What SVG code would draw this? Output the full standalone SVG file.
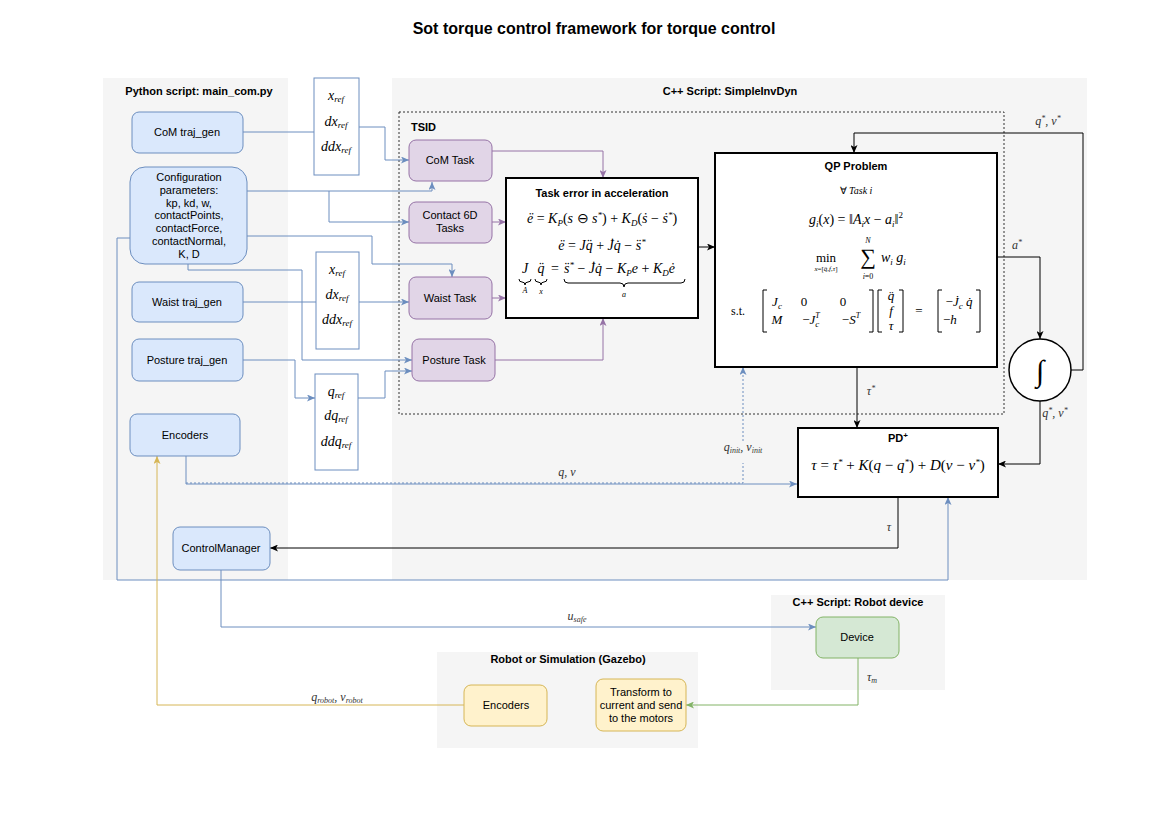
<svg xmlns="http://www.w3.org/2000/svg" width="1169" height="826" viewBox="0 0 1169 826">
<style>
.panel{fill:#f5f5f5;stroke:none}
.ptitle{font-family:"Liberation Sans",Arial,sans-serif;font-size:11px;font-weight:bold;fill:#000;text-anchor:middle}
.lbl{font-family:"Liberation Sans",Arial,sans-serif;font-size:11px;fill:#000;text-anchor:middle}
.blue{fill:#dae8fc;stroke:#6c8ebf;stroke-width:1}
.purple{fill:#e1d5e7;stroke:#9673a6;stroke-width:1}
.green{fill:#d5e8d4;stroke:#82b366;stroke-width:1}
.yellow{fill:#fff2cc;stroke:#d6b656;stroke-width:1}
.refbox{fill:#fff;stroke:#6c8ebf;stroke-width:1}
.bbox{fill:#fff;stroke:#000;stroke-width:2}
.m{font-family:"Liberation Serif","Times New Roman",serif;font-style:italic;fill:#000}
.r{font-family:"Liberation Serif","Times New Roman",serif;fill:#000}
.cb{fill:none;stroke:#6c8ebf;stroke-width:1}
.cp{fill:none;stroke:#9673a6;stroke-width:1}
.ck{fill:none;stroke:#000;stroke-width:1}
.cg{fill:none;stroke:#82b366;stroke-width:1}
.cy{fill:none;stroke:#d6b656;stroke-width:1}
.br{fill:none;stroke:#000;stroke-width:1}
.el{font-family:"Liberation Serif","Times New Roman",serif;font-style:italic;font-size:12px;fill:#333;text-anchor:middle}
</style>
<defs>
<marker id="ab" markerWidth="8" markerHeight="7" refX="8" refY="3.5" orient="auto" markerUnits="userSpaceOnUse"><path d="M0,0 L8,3.5 L0,7 L2,3.5 z" fill="#6c8ebf"/></marker>
<marker id="ap" markerWidth="8" markerHeight="7" refX="8" refY="3.5" orient="auto" markerUnits="userSpaceOnUse"><path d="M0,0 L8,3.5 L0,7 L2,3.5 z" fill="#9673a6"/></marker>
<marker id="ak" markerWidth="8" markerHeight="7" refX="8" refY="3.5" orient="auto" markerUnits="userSpaceOnUse"><path d="M0,0 L8,3.5 L0,7 L2,3.5 z" fill="#000"/></marker>
<marker id="ag" markerWidth="8" markerHeight="7" refX="8" refY="3.5" orient="auto" markerUnits="userSpaceOnUse"><path d="M0,0 L8,3.5 L0,7 L2,3.5 z" fill="#82b366"/></marker>
<marker id="ay" markerWidth="8" markerHeight="7" refX="8" refY="3.5" orient="auto" markerUnits="userSpaceOnUse"><path d="M0,0 L8,3.5 L0,7 L2,3.5 z" fill="#d6b656"/></marker>
</defs>
<rect width="1169" height="826" fill="#fff"/>
<text x="594" y="34" font-family="Liberation Sans,Arial,sans-serif" font-size="16" font-weight="bold" text-anchor="middle">Sot torque control framework for torque control</text>

<g id="panels">
<rect class="panel" x="103" y="78" width="185" height="502"/>
<text class="ptitle" x="199" y="95">Python script: main_com.py</text>
<rect class="panel" x="392" y="78" width="695" height="502"/>
<text class="ptitle" x="730" y="95">C++ Script: SimpleInvDyn</text>
<rect x="399" y="112" width="605" height="302" fill="none" stroke="#333" stroke-width="1" stroke-dasharray="2,2"/>
<text x="411" y="131" font-family="Liberation Sans,Arial,sans-serif" font-size="11" font-weight="bold">TSID</text>
<rect class="panel" x="771" y="595" width="174" height="95"/>
<text class="ptitle" x="858" y="606">C++ Script: Robot device</text>
<rect class="panel" x="437" y="652" width="261" height="96"/>
<text class="ptitle" x="568" y="663">Robot or Simulation (Gazebo)</text>
</g>

<g id="connectors">
<path class="cb" d="M243,132 H314"/>
<path class="cb" d="M359,127 H385 V160 H409" marker-end="url(#ab)"/>
<path class="cb" d="M247,191 H432 V182" marker-end="url(#ab)"/>
<path class="cb" d="M329,191 V222 H409" marker-end="url(#ab)"/>
<path class="cb" d="M247,236 H372 V264 H452 V277" marker-end="url(#ab)"/>
<path class="cb" d="M188,264 V270 H302 V360 H412" marker-end="url(#ab)"/>
<path class="cb" d="M243,302 H316"/>
<path class="cb" d="M359,302 H409" marker-end="url(#ab)"/>
<path class="cb" d="M243,360 H295 V398 H315" marker-end="url(#ab)"/>
<path class="cb" d="M358,398 H385 V371 H412" marker-end="url(#ab)"/>
<path class="cp" d="M492,151 H603 V178" marker-end="url(#ap)"/>
<path class="cp" d="M492,222 H506" marker-end="url(#ap)"/>
<path class="cp" d="M492,298 H506" marker-end="url(#ap)"/>
<path class="cp" d="M495,360 H603 V318" marker-end="url(#ap)"/>
<path class="ck" d="M698,247 H715" marker-end="url(#ak)"/>
<path class="ck" d="M997,257 H1040 V339" marker-end="url(#ak)"/>
<path class="ck" d="M1071,370 H1083 V133 H854 V153" marker-end="url(#ak)"/>
<path class="ck" d="M1040,401 V464 H998" marker-end="url(#ak)"/>
<path class="ck" d="M857,367 V428" marker-end="url(#ak)"/>
<path class="ck" d="M898,497 V548 H270" marker-end="url(#ak)"/>
<path class="cb" d="M186,456 V484 H797" marker-end="url(#ab)"/>
<path class="cb" d="M186,483 H743 V463" stroke-dasharray="2,2"/>
<path class="cb" d="M743,441 V367" stroke-dasharray="2,2" marker-end="url(#ab)"/>
<path class="cb" d="M130,238 H117 V580 H948 V497" marker-end="url(#ab)"/>
<path class="cb" d="M221,570 V627 H816" marker-end="url(#ab)"/>
<path class="cg" d="M858,658 V705 H686" marker-end="url(#ag)"/>
<path class="cy" d="M464,705 H157 V456" marker-end="url(#ay)"/>
<text class="el" x="1048" y="125">q<tspan font-size="8" dy="-4">*</tspan><tspan dy="4">, v</tspan><tspan font-size="8" dy="-4">*</tspan></text>
<text class="el" x="1017" y="249">a<tspan font-size="8" dy="-4">*</tspan></text>
<text class="el" x="1055" y="417">q<tspan font-size="8" dy="-4">*</tspan><tspan dy="4">, v</tspan><tspan font-size="8" dy="-4">*</tspan></text>
<text class="el" x="871" y="395">τ<tspan font-size="8" dy="-4">*</tspan></text>
<text class="el" x="889" y="531">τ</text>
<text class="el" x="567" y="476">q, v</text>
<text class="el" x="743" y="451">q<tspan font-size="8" dy="2">init</tspan><tspan dy="-2">, v</tspan><tspan font-size="8" dy="2">init</tspan></text>
<text class="el" x="577" y="620">u<tspan font-size="8" dy="2">safe</tspan></text>
<text class="el" x="872" y="681">τ<tspan font-size="8" dy="2">m</tspan></text>
<text class="el" x="337" y="701">q<tspan font-size="8" dy="2">robot</tspan><tspan dy="-2">, v</tspan><tspan font-size="8" dy="2">robot</tspan></text>
</g>

<g id="com-trajgen"><rect class="blue" x="132" y="112" width="111" height="41" rx="7"/><text class="lbl" x="187" y="136">CoM traj_gen</text></g>
<g id="config"><rect class="blue" x="130" y="167" width="117" height="97" rx="15"/>
<text class="lbl" x="189" y="181">Configuration</text>
<text class="lbl" x="189" y="194">parameters:</text>
<text class="lbl" x="189" y="207">kp, kd, w,</text>
<text class="lbl" x="189" y="219">contactPoints,</text>
<text class="lbl" x="189" y="232">contactForce,</text>
<text class="lbl" x="189" y="245">contactNormal,</text>
<text class="lbl" x="189" y="258">K, D</text></g>
<g id="waist-trajgen"><rect class="blue" x="132" y="282" width="111" height="40" rx="7"/><text class="lbl" x="187" y="306">Waist traj_gen</text></g>
<g id="posture-trajgen"><rect class="blue" x="132" y="339" width="111" height="42" rx="7"/><text class="lbl" x="187" y="364">Posture traj_gen</text></g>
<g id="encoders"><rect class="blue" x="130" y="414" width="110" height="42" rx="7"/><text class="lbl" x="185" y="439">Encoders</text></g>
<g id="controlmanager"><rect class="blue" x="173" y="527" width="97" height="43" rx="7"/><text class="lbl" x="221" y="552" font-size="10">ControlManager</text></g>

<g id="ref-com"><rect class="refbox" x="314" y="78" width="45" height="97"/>
<text class="m" font-size="14" x="336" y="100" text-anchor="middle">x<tspan font-size="9" dy="2">ref</tspan></text>
<text class="m" font-size="14" x="336" y="126" text-anchor="middle">dx<tspan font-size="9" dy="2">ref</tspan></text>
<text class="m" font-size="14" x="336" y="151" text-anchor="middle">ddx<tspan font-size="9" dy="2">ref</tspan></text></g>
<g id="ref-waist"><rect class="refbox" x="316" y="252" width="43" height="97"/>
<text class="m" font-size="14" x="337" y="274" text-anchor="middle">x<tspan font-size="9" dy="2">ref</tspan></text>
<text class="m" font-size="14" x="337" y="299" text-anchor="middle">dx<tspan font-size="9" dy="2">ref</tspan></text>
<text class="m" font-size="14" x="337" y="324" text-anchor="middle">ddx<tspan font-size="9" dy="2">ref</tspan></text></g>
<g id="ref-posture"><rect class="refbox" x="315" y="374" width="43" height="96"/>
<text class="m" font-size="14" x="336" y="396" text-anchor="middle">q<tspan font-size="9" dy="2">ref</tspan></text>
<text class="m" font-size="14" x="336" y="420" text-anchor="middle">dq<tspan font-size="9" dy="2">ref</tspan></text>
<text class="m" font-size="14" x="336" y="446" text-anchor="middle">ddq<tspan font-size="9" dy="2">ref</tspan></text></g>

<g id="com-task"><rect class="purple" x="409" y="140" width="83" height="41" rx="7"/><text class="lbl" x="450" y="164">CoM Task</text></g>
<g id="contact-task"><rect class="purple" x="409" y="202" width="83" height="41" rx="7"/><text class="lbl" x="450" y="219">Contact 6D</text><text class="lbl" x="450" y="232">Tasks</text></g>
<g id="waist-task"><rect class="purple" x="409" y="277" width="83" height="42" rx="7"/><text class="lbl" x="450" y="302">Waist Task</text></g>
<g id="posture-task"><rect class="purple" x="412" y="339" width="83" height="42" rx="7"/><text class="lbl" x="454" y="364">Posture Task</text></g>

<g id="task-error"><rect class="bbox" x="506" y="178" width="192" height="140"/>
<text class="ptitle" x="602" y="197">Task error in acceleration</text>
<text class="m" font-size="14" x="602" y="223" text-anchor="middle">ë <tspan font-style="normal">=</tspan> K<tspan font-size="9" dy="3">P</tspan><tspan dy="-3" font-style="normal">(</tspan>s <tspan font-style="normal">⊖</tspan> s<tspan font-size="9" dy="-5">*</tspan><tspan dy="5" font-style="normal">) + </tspan>K<tspan font-size="9" dy="3">D</tspan><tspan dy="-3" font-style="normal">(</tspan>ṡ <tspan font-style="normal">−</tspan> ṡ<tspan font-size="9" dy="-5">*</tspan><tspan dy="5" font-style="normal">)</tspan></text>
<text class="m" font-size="14" x="602" y="250" text-anchor="middle">ë <tspan font-style="normal">=</tspan> Jq̈ <tspan font-style="normal">+</tspan> J̇q̇ <tspan font-style="normal">−</tspan> s̈<tspan font-size="9" dy="-5">*</tspan></text>
<text class="m" font-size="14" x="525" y="273" text-anchor="middle">J</text>
<text class="m" font-size="14" x="541" y="273" text-anchor="middle">q̈</text>
<text class="r" font-size="14" x="555" y="273" text-anchor="middle">=</text>
<text class="m" font-size="14" x="564" y="273">s̈<tspan font-size="9" dy="-5">*</tspan><tspan dy="5" font-style="normal"> − </tspan>J̇q̇<tspan font-style="normal"> − </tspan>K<tspan font-size="9" dy="3">P</tspan><tspan dy="-3">e</tspan><tspan font-style="normal"> + </tspan>K<tspan font-size="9" dy="3">D</tspan><tspan dy="-3">ė</tspan></text>
<path class="br" d="M519,279 q0,3 3,3 h0 q3,0 3,3 q0,-3 3,-3 h0 q3,0 3,-3"/>
<path class="br" d="M535,279 q0,3 3,3 h0 q3,0 3,3 q0,-3 3,-3 h0 q3,0 3,-3"/>
<path class="br" d="M564,279 q0,4 4,4 h52 q4,0 4,4 q0,-4 4,-4 h53 q4,0 4,-4"/>
<text class="m" font-size="8" x="525" y="293" text-anchor="middle">A</text>
<text class="m" font-size="8" x="541" y="294" text-anchor="middle">x</text>
<text class="m" font-size="8" x="624" y="297" text-anchor="middle">a</text>
</g>

<g id="qp-problem"><rect class="bbox" x="715" y="153" width="282" height="214"/>
<text class="ptitle" x="856" y="170">QP Problem</text>
<text class="r" font-size="10" x="856" y="194" text-anchor="middle">∀ <tspan font-style="italic">Task i</tspan></text>
<text class="m" font-size="14" x="856" y="224" text-anchor="middle">g<tspan font-size="9" dy="3">i</tspan><tspan dy="-3" font-style="normal">(</tspan>x<tspan font-style="normal">) = ‖</tspan>A<tspan font-size="9" dy="3">i</tspan><tspan dy="-3">x </tspan><tspan font-style="normal">−</tspan> a<tspan font-size="9" dy="3">i</tspan><tspan dy="-3" font-style="normal">‖</tspan><tspan font-size="9" dy="-6" font-style="normal">2</tspan></text>
<text class="r" font-size="13" x="826" y="262" text-anchor="middle">min</text>
<text class="m" font-size="7" x="826" y="271" text-anchor="middle">x<tspan font-style="normal">=[</tspan>q̈<tspan font-style="normal">,</tspan>f<tspan font-style="normal">,</tspan>τ<tspan font-style="normal">]</tspan></text>
<text class="r" font-size="22" x="868" y="264" text-anchor="middle">∑</text>
<text class="m" font-size="8" x="868" y="243" text-anchor="middle">N</text>
<text class="m" font-size="8" x="868" y="279" text-anchor="middle">i<tspan font-style="normal">=0</tspan></text>
<text class="m" font-size="14" x="881" y="262">w<tspan font-size="9" dy="3">i</tspan><tspan dy="-3"> g</tspan><tspan font-size="9" dy="3">i</tspan></text>
<text class="r" font-size="12" x="738" y="315" text-anchor="middle">s.t.</text>
<path class="br" d="M767,290 h-4 v42 h4 M869,290 h4 v42 h-4 M882,290 h-4 v42 h4 M899,290 h4 v42 h-4 M942,290 h-4 v42 h4 M976,290 h4 v42 h-4" stroke-width="1.2"/>
<text class="m" font-size="13" x="777" y="306" text-anchor="middle">J<tspan font-size="9" dy="3">c</tspan></text>
<text class="r" font-size="13" x="804" y="306" text-anchor="middle">0</text>
<text class="r" font-size="13" x="843" y="306" text-anchor="middle">0</text>
<text class="m" font-size="13" x="777" y="324" text-anchor="middle">M</text>
<text class="m" font-size="13" x="811" y="324" text-anchor="middle"><tspan font-style="normal">−</tspan>J<tspan font-size="9" dy="3">c</tspan><tspan font-size="8" dy="-9" dx="-4">T</tspan></text>
<text class="m" font-size="13" x="851" y="324" text-anchor="middle"><tspan font-style="normal">−</tspan>S<tspan font-size="8" dy="-6">T</tspan></text>
<text class="m" font-size="13" x="891" y="300" text-anchor="middle">q̈</text>
<text class="m" font-size="13" x="891" y="315" text-anchor="middle">f</text>
<text class="m" font-size="13" x="891" y="330" text-anchor="middle">τ</text>
<text class="r" font-size="13" x="919" y="315" text-anchor="middle">=</text>
<text class="m" font-size="13" x="959" y="306" text-anchor="middle"><tspan font-style="normal">−</tspan>J̇<tspan font-size="9" dy="3">c</tspan><tspan dy="-3"> q̇</tspan></text>
<text class="m" font-size="13" x="943" y="324"><tspan font-style="normal">−</tspan>h</text>
</g>

<g id="integrator"><circle cx="1040" cy="370" r="31" fill="#fff" stroke="#000" stroke-width="1.5"/><text class="r" font-size="30" x="1040" y="381" text-anchor="middle">∫</text></g>

<g id="pd-plus"><rect class="bbox" x="798" y="428" width="200" height="69"/>
<text class="ptitle" x="898" y="442">PD<tspan font-size="8" dy="-4">+</tspan></text>
<text class="m" font-size="15" x="898" y="470" text-anchor="middle">τ <tspan font-style="normal">=</tspan> τ<tspan font-size="9" dy="-5">*</tspan><tspan dy="5" font-style="normal"> + </tspan>K<tspan font-style="normal">(</tspan>q <tspan font-style="normal">−</tspan> q<tspan font-size="9" dy="-5">*</tspan><tspan dy="5" font-style="normal">) + </tspan>D<tspan font-style="normal">(</tspan>v <tspan font-style="normal">−</tspan> v<tspan font-size="9" dy="-5">*</tspan><tspan dy="5" font-style="normal">)</tspan></text>
</g>

<g id="device"><rect class="green" x="816" y="617" width="83" height="41" rx="7"/><text class="lbl" x="857" y="641">Device</text></g>
<g id="robot-encoders"><rect class="yellow" x="464" y="685" width="83" height="41" rx="7"/><text class="lbl" x="506" y="709">Encoders</text></g>
<g id="transform"><rect class="yellow" x="596" y="679" width="90" height="52" rx="7"/>
<text class="lbl" x="641" y="696">Transform to</text>
<text class="lbl" x="641" y="709">current and send</text>
<text class="lbl" x="641" y="722">to the motors</text></g>
</svg>
